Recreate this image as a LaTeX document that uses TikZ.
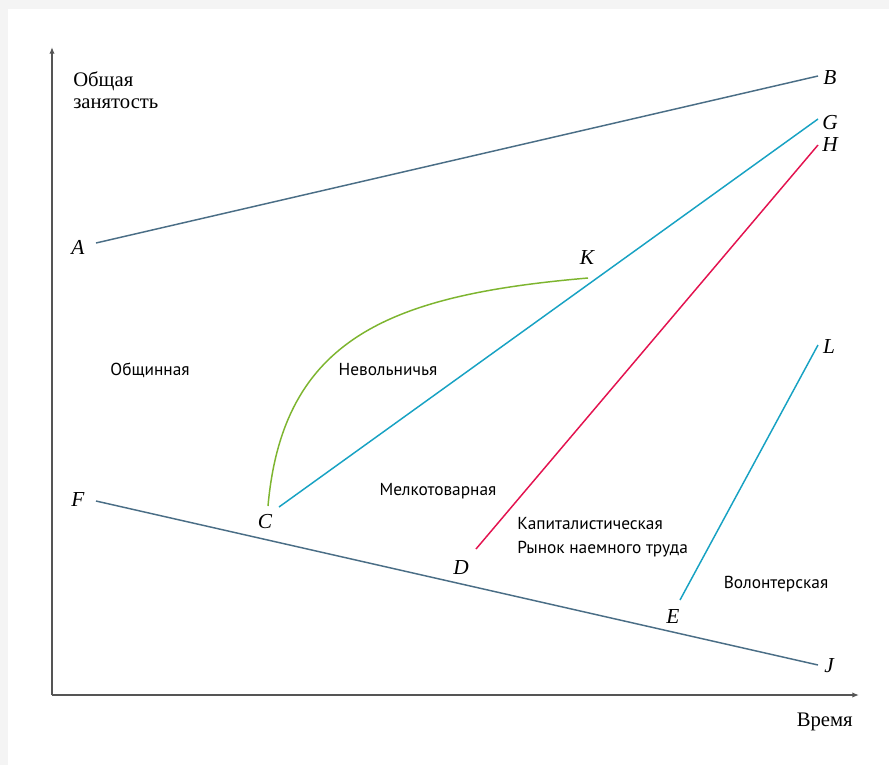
\documentclass[tikz,border=0pt]{standalone}
\usepackage{fontspec}
\setmainfont{Liberation Serif}
\newfontfamily\regfont{PT Sans}
\usetikzlibrary{arrows.meta}
\definecolor{slate}{HTML}{4A6E86}
\definecolor{cyanl}{HTML}{17A2C3}
\definecolor{crim}{HTML}{E3124F}
\definecolor{leaf}{HTML}{7DB52F}
\definecolor{axisc}{HTML}{555555}
\definecolor{bgray}{HTML}{F4F4F4}
\tikzset{
  axisline/.style={draw=axisc, line width=1.1pt, -{Latex[length=5pt,width=4pt]}},
  curveline/.style={line width=1.1pt},
  ptlabel/.style={font=\fontsize{16}{19}\selectfont\itshape, inner sep=0pt},
  region/.style={font=\regfont\fontsize{13}{16}\selectfont, inner sep=0pt},
  axlabel/.style={font=\fontsize{15.5}{18}\selectfont, inner sep=0pt}
}
\begin{document}
\begin{tikzpicture}[x=0.75pt,y=-0.75pt]
\useasboundingbox (0,0) rectangle (889,765);
\fill[bgray] (0,0) rectangle (889,765);
\fill[white] (8,9) rectangle (889,765);
% axes
\coordinate (O) at (52,695);
\coordinate (Ytop) at (52,47);
\coordinate (Xend) at (859,695);
\draw[axisline] (O) -- (Ytop);
\draw[axisline] (O) -- (Xend);
% endpoints
\coordinate (pA) at (96,243);
\coordinate (pB) at (818,76);
\coordinate (pF) at (96,501);
\coordinate (pJ) at (818,665);
\coordinate (pC) at (279,507);
\coordinate (pG) at (818,119);
\coordinate (pCc) at (268,506);
\coordinate (pK) at (588,278);
\coordinate (pD) at (476,549);
\coordinate (pH) at (818,145);
\coordinate (pE) at (680,600);
\coordinate (pL) at (818,345);
\draw[slate,curveline] (pA) -- (pB);
\draw[slate,curveline] (pF) -- (pJ);
\draw[cyanl,curveline] (pC) -- (pG);
\draw[crim,curveline] (pD) -- (pH);
\draw[cyanl,curveline] (pE) -- (pL);
\draw[leaf,curveline] (pCc) .. controls (283,338) and (390,295) .. (pK);
% point labels
\node[ptlabel] (lA) at (78,247) {A};
\node[ptlabel] (lB) at (830,78) {B};
\node[ptlabel] (lG) at (830,123) {G};
\node[ptlabel] (lH) at (830,145) {H};
\node[ptlabel] (lK) at (587,258) {K};
\node[ptlabel] (lL) at (829,347) {L};
\node[ptlabel] (lF) at (78,500) {F};
\node[ptlabel] (lC) at (265,522) {C};
\node[ptlabel] (lD) at (461,568) {D};
\node[ptlabel] (lE) at (673,617) {E};
\node[ptlabel] (lJ) at (829,666) {J};
% axis labels
\node[axlabel, anchor=base west] (ylab1) at (73,86) {Общая};
\node[axlabel, anchor=base west] (ylab2) at (73,108) {занятость};
\node[axlabel, anchor=base east] (xlab) at (853,726) {Время};
% regions
\node[region] (r1) at (150,370) {Общинная};
\node[region] (r2) at (388,370) {Невольничья};
\node[region] (r3) at (438,491) {Мелкотоварная};
\node[region, anchor=base west] (r4) at (517,529) {Капиталистическая};
\node[region, anchor=base west] (r5) at (517,553) {Рынок наемного труда};
\node[region] (r6) at (776,584) {Волонтерская};
\end{tikzpicture}
\end{document}
